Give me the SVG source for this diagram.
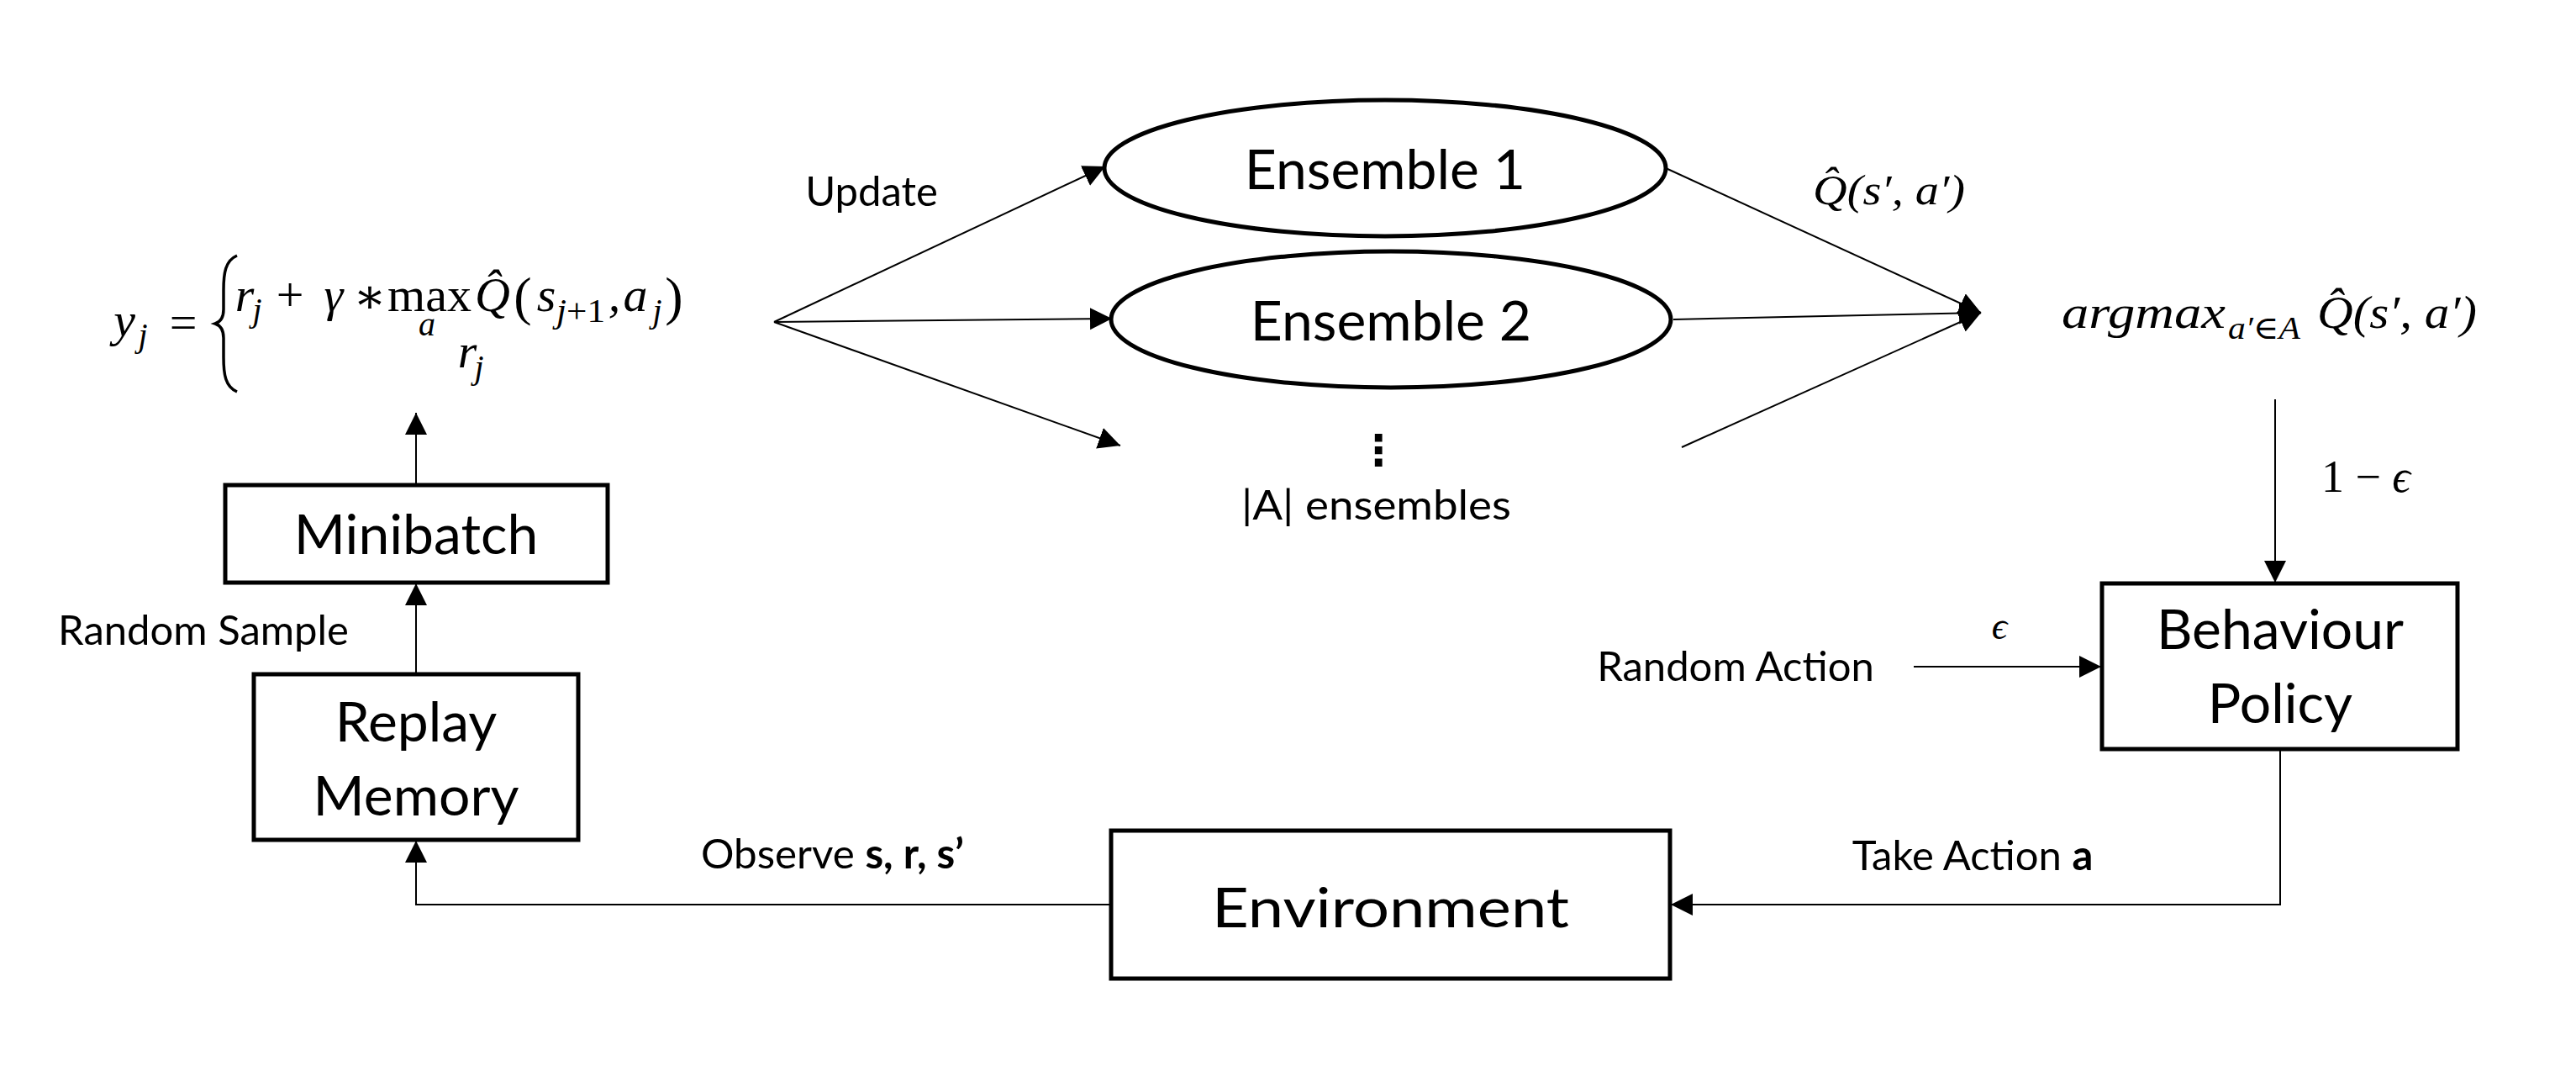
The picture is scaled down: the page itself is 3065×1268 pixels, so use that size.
<svg xmlns="http://www.w3.org/2000/svg" width="3065" height="1268" viewBox="0 0 3065 1268">
<defs>
<marker id="arr" markerUnits="userSpaceOnUse" markerWidth="28" markerHeight="28" refX="26" refY="13" orient="auto">
<path d="M0,0 L26,13 L0,26 z" fill="#000"/>
</marker>
<style>
.box{fill:#fff;stroke:#000;stroke-width:5}
.lbl{font-family:Lato,"Liberation Sans",sans-serif;fill:#000}
.big{font-size:66px}
.sm{font-size:49px}
.math{font-family:"Liberation Serif","DejaVu Serif",serif;font-style:italic;fill:#000}
.up{font-style:normal}
.conn{fill:none;stroke:#000;stroke-width:2}
</style>
</defs>
<rect width="3065" height="1268" fill="#fff"/>

<g id="connectors">
<line class="conn" x1="921" y1="383" x2="1315" y2="198" marker-end="url(#arr)"/>
<line class="conn" x1="921" y1="383" x2="1323" y2="379" marker-end="url(#arr)"/>
<line class="conn" x1="921" y1="383" x2="1333" y2="530" marker-end="url(#arr)"/>
<line class="conn" x1="1982" y1="200" x2="2357" y2="372" marker-end="url(#arr)"/>
<line class="conn" x1="1991" y1="380" x2="2357" y2="372" marker-end="url(#arr)"/>
<line class="conn" x1="2001" y1="532" x2="2357" y2="372" marker-end="url(#arr)"/>
<line class="conn" x1="2707" y1="475" x2="2707" y2="693" marker-end="url(#arr)"/>
<line class="conn" x1="2277" y1="793" x2="2500" y2="793" marker-end="url(#arr)"/>
<polyline class="conn" points="2713,892 2713,1076 1988,1076" marker-end="url(#arr)"/>
<polyline class="conn" points="1322,1076 495,1076 495,1000" marker-end="url(#arr)"/>
<line class="conn" x1="495" y1="802" x2="495" y2="694" marker-end="url(#arr)"/>
<line class="conn" x1="495" y1="575" x2="495" y2="491" marker-end="url(#arr)"/>
</g>

<g id="ensemble1">
<ellipse class="box" cx="1648" cy="200" rx="334" ry="81"/>
<text class="lbl big" x="1648" y="225" text-anchor="middle">Ensemble 1</text>
</g>
<g id="ensemble2">
<ellipse class="box" cx="1655" cy="380" rx="333" ry="81"/>
<text class="lbl big" x="1655" y="405" text-anchor="middle">Ensemble 2</text>
</g>
<g id="ensembles-more">
<text x="1640" y="553" text-anchor="middle" style="font-family:'DejaVu Sans',sans-serif;font-size:50px;font-weight:bold">⋮</text>
<text class="lbl sm" x="1477" y="618" textLength="321" lengthAdjust="spacingAndGlyphs">|A| ensembles</text>
</g>
<g id="minibatch">
<rect class="box" x="268" y="577" width="455" height="116"/>
<text class="lbl big" x="495" y="659" text-anchor="middle">Minibatch</text>
</g>
<g id="replay-memory">
<rect class="box" x="302" y="802" width="386" height="197"/>
<text class="lbl big" x="495" y="882" text-anchor="middle">Replay</text>
<text class="lbl big" x="495" y="970" text-anchor="middle">Memory</text>
</g>
<g id="environment">
<rect class="box" x="1322" y="988" width="665" height="176"/>
<text class="lbl big" x="1442" y="1103" textLength="425" lengthAdjust="spacingAndGlyphs">Environment</text>
</g>
<g id="behaviour-policy">
<rect class="box" x="2501" y="694" width="423" height="197"/>
<text class="lbl big" x="2713" y="772" text-anchor="middle">Behaviour</text>
<text class="lbl big" x="2713" y="860" text-anchor="middle">Policy</text>
</g>

<g id="labels">
<text class="lbl sm" x="1037" y="245" text-anchor="middle">Update</text>
<text class="lbl sm" x="242" y="767" text-anchor="middle">Random Sample</text>
<text class="lbl sm" x="2065" y="810" text-anchor="middle">Random Action</text>
<text class="lbl sm" x="834" y="1033" textLength="313" lengthAdjust="spacingAndGlyphs">Observe <tspan font-weight="bold">s, r, s’</tspan></text>
<text class="lbl sm" x="2347" y="1035" text-anchor="middle">Take Action <tspan font-weight="bold">a</tspan></text>
<text class="math" x="2379" y="760" font-size="46" text-anchor="middle">ϵ</text>
<text class="math" x="2815" y="585" font-size="54" text-anchor="middle"><tspan class="up">1 − </tspan>ϵ</text>
<text class="math" x="2157" y="243" font-size="50" textLength="181" lengthAdjust="spacingAndGlyphs">Q̂(s′, a′)</text>
<text class="math" x="2453" y="390" font-size="54" textLength="195" lengthAdjust="spacingAndGlyphs">argmax</text>
<text class="math" x="2651" y="403" font-size="38" textLength="86" lengthAdjust="spacingAndGlyphs">a′∈A</text>
<text class="math" x="2757" y="390" font-size="54" textLength="190" lengthAdjust="spacingAndGlyphs">Q̂(s′, a′)</text>
</g>

<g id="formula" font-size="58">
<text class="math" x="148" y="400" text-anchor="middle">y</text>
<text class="math" x="170" y="412" font-size="40" text-anchor="middle">j</text>
<text class="math up" x="218" y="403" text-anchor="middle">=</text>
<path d="M282,304 C268,310 266,325 266,345 L266,368 C266,378 262,383 256,385 C262,387 266,392 266,402 L266,425 C266,445 268,460 282,466" fill="none" stroke="#000" stroke-width="3.5"/>
<text class="math" x="291" y="370" text-anchor="middle">r</text>
<text class="math" x="306" y="382" font-size="40" text-anchor="middle">j</text>
<text class="math up" x="345" y="370" text-anchor="middle">+</text>
<text class="math" x="397" y="370" text-anchor="middle">γ</text>
<text class="math up" x="440" y="372" text-anchor="middle">∗</text>
<text class="math up" x="461" y="370"><tspan textLength="100" lengthAdjust="spacingAndGlyphs">max</tspan><tspan class="math" x="498" y="399" font-size="40">a</tspan></text>
<text class="math" x="586" y="370" text-anchor="middle">Q̂</text>
<text class="math up" x="622" y="374" font-size="64" text-anchor="middle">(</text>
<text class="math" x="650" y="370" text-anchor="middle">s</text>
<text class="math" x="662" y="383" font-size="40" textLength="58" lengthAdjust="spacingAndGlyphs">j<tspan class="up">+1</tspan></text>
<text class="math" x="731" y="370" text-anchor="middle">,</text>
<text class="math" x="756" y="370" text-anchor="middle">a</text>
<text class="math" x="782" y="383" font-size="40" text-anchor="middle">j</text>
<text class="math up" x="802" y="374" font-size="64" text-anchor="middle">)</text>
<text class="math" x="556" y="437" text-anchor="middle">r</text>
<text class="math" x="570" y="450" font-size="40" text-anchor="middle">j</text>
</g>
</svg>
